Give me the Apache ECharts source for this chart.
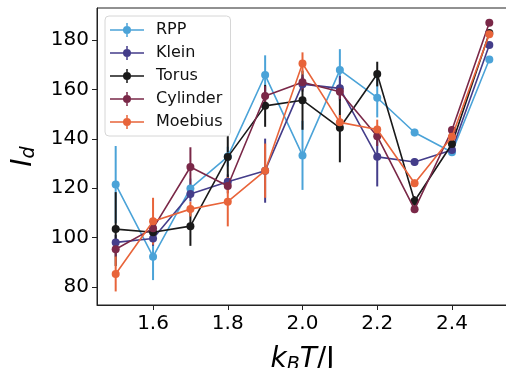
<!DOCTYPE html>
<html>
<head>
<meta charset="utf-8">
<script src="https://cdn.jsdelivr.net/npm/echarts@6/dist/echarts.min.js"></script>
<style>
  html, body { margin: 0; padding: 0; background: #fff; }
  #chart { width: 506px; height: 368px; }
</style>
</head>
<body>
<div id="chart"></div>
<script>
// temperatures (k_B T / J)
const temps = [1.5, 1.6, 1.7, 1.8, 1.9, 2.0, 2.1, 2.2, 2.3, 2.4, 2.5];

const rppVals = [121.5, 92.2, 119.9, 132.8, 165.9, 133.3, 167.9, 156.7, 142.6, 134.6, 172.2];
const rppErr = [15.6, 9.5, 4, 4, 8, 14, 8.5, 8, 1.5, 1.5, 1];

const kleinVals = [98.0, 99.6, 117.6, 122.6, 127.1, 162.2, 160.5, 132.7, 130.6, 135.5, 178.1];
const kleinErr = [3, 3, 3, 3, 13, 3, 5, 12, 1.5, 1.5, 1];

const torusVals = [103.4, 102.1, 104.6, 132.6, 153.4, 155.7, 144.5, 166.3, 114.8, 137.9, 183.0];
const torusErr = [15, 3, 8, 8.5, 8.5, 12, 14, 5, 2, 2, 1];

const cylVals = [95.2, 103.7, 128.6, 120.9, 157.4, 163.0, 159.1, 141.1, 111.4, 143.6, 187.1];
const cylErr = [3, 3, 8, 3, 4, 3, 3, 4, 1.5, 1.5, 0.5];

const moebVals = [85.2, 106.6, 111.5, 114.5, 127.1, 170.6, 146.7, 143.8, 122.0, 140.9, 182.5];
const moebErr = [7.1, 9.5, 3, 10, 11, 4.5, 3, 4, 1.5, 1.5, 1];

const xTicks = [1.6, 1.8, 2.0, 2.2, 2.4];
const yTicks = [80, 100, 120, 140, 160, 180];

const groups = [
  { name: "RPP", vals: rppVals, err: rppErr, color: "#4ba3d8" },
  { name: "Klein", vals: kleinVals, err: kleinErr, color: "#443d8a" },
  { name: "Torus", vals: torusVals, err: torusErr, color: "#1a1a1a" },
  { name: "Cylinder", vals: cylVals, err: cylErr, color: "#7a2848" },
  { name: "Moebius", vals: moebVals, err: moebErr, color: "#e8643a" },
];

// legend icon: line + marker + error bar
const legendIcon =
  "path://M0,6.25h34v1.5h-34z M16.25,0h1.5v14h-1.5z M21,7a4,4 0 1,1 -8,0a4,4 0 1,1 8,0z";

const font = "DejaVu Sans";

// error bars first (drawn under all lines), then lines in order
const errSeries = groups.map((g) => ({
  type: "custom",
  name: g.name + "_err",
  z: 2,
  silent: true,
  data: temps.map((t, i) => [t, g.vals[i] - g.err[i], g.vals[i] + g.err[i]]),
  encode: { x: 0, y: [1, 2] },
  renderItem: (params, api) => {
    const lo = api.coord([api.value(0), api.value(1)]);
    const hi = api.coord([api.value(0), api.value(2)]);
    return {
      type: "line",
      shape: { x1: lo[0], y1: lo[1], x2: hi[0], y2: hi[1] },
      style: { stroke: g.color, lineWidth: 2 },
    };
  },
}));

const lineSeries = groups.map((g, idx) => ({
  type: "line",
  name: g.name,
  z: 3 + idx,
  data: temps.map((t, i) => [t, g.vals[i]]),
  symbol: "circle",
  symbolSize: 8,
  lineStyle: { width: 1.6, color: g.color },
  itemStyle: { color: g.color },
}));

const chart = echarts.init(document.getElementById("chart"));
chart.setOption({
  animation: false,
  textStyle: { fontFamily: font },
  grid: {
    left: 97, top: 8, right: -2, bottom: 63,
    containLabel: false,
    outerBoundsMode: "none",
    show: true, borderColor: "#222", borderWidth: 1, backgroundColor: "transparent",
  },
  legend: {
    orient: "vertical",
    left: 105,
    top: 16,
    data: groups.map((g) => g.name),
    icon: legendIcon,
    itemWidth: 34,
    itemHeight: 14,
    itemGap: 7,
    padding: [6, 8, 6, 5],
    borderColor: "#d6d6d6",
    borderWidth: 1,
    borderRadius: 4,
    backgroundColor: "rgba(255,255,255,0.85)",
    itemStyle: { borderWidth: 0 },
    textStyle: { fontFamily: font, fontSize: 16, color: "#111", padding: [0, 0, 0, 7] },
  },
  xAxis: {
    type: "value",
    min: 1.45,
    max: 2.55,
    name: "{i|k}{s|B}{i|T}{n|/J}",
    nameLocation: "middle",
    nameGap: 40,
    nameTextStyle: {
      rich: {
        i: { fontFamily: font, fontSize: 28, fontStyle: "italic", lineHeight: 30, color: "#000" },
        n: { fontFamily: font, fontSize: 28, lineHeight: 30, color: "#000" },
        s: { fontFamily: font, fontSize: 19, fontStyle: "italic", lineHeight: 14, verticalAlign: "bottom", color: "#000" },
      },
    },
    axisLine: { show: true, onZero: false, lineStyle: { color: "#222", width: 1 } },
    axisTick: { show: true, length: 5, customValues: xTicks, lineStyle: { color: "#222" } },
    axisLabel: {
      customValues: xTicks,
      fontSize: 20, color: "#000", margin: 9,
      formatter: (v) => v.toFixed(1),
    },
    splitLine: { show: false },
  },
  yAxis: {
    type: "value",
    min: 72.6,
    max: 193.1,
    name: "{i|I}{s|d}",
    nameLocation: "middle",
    nameRotate: 90,
    nameGap: 58,
    nameTextStyle: {
      rich: {
        i: { fontFamily: font, fontSize: 28, fontStyle: "italic", lineHeight: 30, color: "#000" },
        s: { fontFamily: font, fontSize: 19, fontStyle: "italic", lineHeight: 14, verticalAlign: "bottom", color: "#000" },
      },
    },
    axisLine: { show: true, onZero: false, lineStyle: { color: "#222", width: 1 } },
    axisTick: { show: true, length: 5, customValues: yTicks, lineStyle: { color: "#222" } },
    axisLabel: { customValues: yTicks, fontSize: 20, color: "#000", margin: 8 },
    splitLine: { show: false },
  },
  series: errSeries.concat(lineSeries),
});
</script>
</body>
</html>
